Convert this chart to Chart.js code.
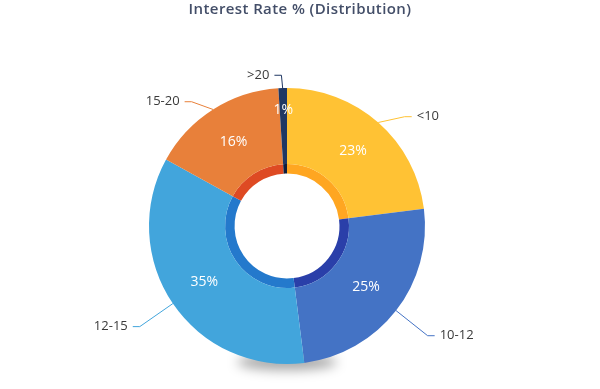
<!DOCTYPE html>
<html>
<head>
<meta charset="utf-8">
<script src="https://cdn.jsdelivr.net/npm/chart.js@4"></script>
<style>
    html, body { margin: 0; padding: 0; background: #fff; }
    #wrap { width: 600px; height: 389px; position: relative; }
</style>
</head>
<body>
<div id="wrap"><canvas id="rateChart"></canvas></div>
<script>
// Data
const categories = ['<10', '10-12', '12-15', '15-20', '>20'];
const shares = [23, 25, 35, 16, 1];
const outerColors = ['#FFC234', '#4473C5', '#42A5DC', '#E8803A', '#1F3763'];
const innerColors = ['#FFA621', '#2A3FA9', '#2479CC', '#DE4A23', '#0E1E3D'];
const chartTitle = 'Interest Rate % (Distribution)';
const FONT = '"Open Sans", sans-serif';

// Title drawn centred on the page (chart area itself is offset to the left)
const titlePlugin = {
    id: 'pageTitle',
    afterDraw(chart) {
        const ctx = chart.ctx;
        ctx.save();
        ctx.font = '600 15px ' + FONT;
        ctx.letterSpacing = '0.4px';
        ctx.fillStyle = '#434E68';
        ctx.textAlign = 'center';
        ctx.textBaseline = 'middle';
        ctx.fillText(chartTitle, chart.width / 2, 10);
        ctx.restore();
    }
};

// Soft shadow under the bottom of the ring
const shadowPlugin = {
    id: 'ringShadow',
    beforeDatasetsDraw(chart) {
        const arc = chart.getDatasetMeta(0).data[0];
        if (!arc) return;
        const ctx = chart.ctx;
        ctx.save();
        ctx.filter = 'blur(6px)';
        ctx.fillStyle = 'rgba(0, 0, 0, 0.35)';
        ctx.beginPath();
        ctx.ellipse(arc.x, arc.y + arc.outerRadius - 2, 50, 8, 0, 0, Math.PI * 2);
        ctx.fill();
        ctx.restore();
    }
};

// Percentages inside slices + outside labels with leader lines
const labelPlugin = {
    id: 'sliceLabels',
    afterDatasetsDraw(chart) {
        const ctx = chart.ctx;
        const meta = chart.getDatasetMeta(0);
        const total = shares.reduce((a, b) => a + b, 0);
        ctx.save();
        meta.data.forEach((arc, i) => {
            const mid = (arc.startAngle + arc.endAngle) / 2;
            const cos = Math.cos(mid), sin = Math.sin(mid);
            const cx = arc.x, cy = arc.y, R = arc.outerRadius;

            // percentage (thin slices pushed a bit outwards)
            const pr = shares[i] / total < 0.05 ? R - 22 : (arc.innerRadius + R) / 2;
            ctx.font = '14px ' + FONT;
            ctx.fillStyle = '#ffffff';
            ctx.textAlign = 'center';
            ctx.textBaseline = 'middle';
            ctx.fillText(Math.round(shares[i] / total * 100) + '%', cx + cos * pr, cy + sin * pr);

            // leader line
            const sx = cx + cos * R, sy = cy + sin * R;
            const bx = cx + cos * (R + 40);
            const by = cy + sin * (R + 13) + (sin > 0 ? 28 * sin : 6 * Math.abs(cos));
            const right = cos >= 0;
            const ex = bx + (right ? 7 : -7);
            ctx.strokeStyle = outerColors[i];
            ctx.lineWidth = 1;
            ctx.beginPath();
            ctx.moveTo(sx, sy);
            ctx.lineTo(bx, by);
            ctx.lineTo(ex, by);
            ctx.stroke();

            ctx.font = '13px ' + FONT;
            ctx.fillStyle = '#3a3a3a';
            ctx.textAlign = right ? 'left' : 'right';
            ctx.fillText(categories[i], ex + (right ? 5 : -5), by);
        });
        ctx.restore();
    }
};

document.addEventListener('DOMContentLoaded', () => {
    const ctx = document.getElementById('rateChart').getContext('2d');

    new Chart(ctx, {
        type: 'doughnut',
        data: {
            labels: categories,
            datasets: [{
                data: shares,
                backgroundColor: outerColors,
                borderWidth: 0,
                weight: 8
            }, {
                data: shares,
                backgroundColor: innerColors,
                borderWidth: 0,
                weight: 1
            }]
        },
        options: {
            responsive: true,
            maintainAspectRatio: false,
            animation: false,
            cutout: '38%',
            rotation: 0,
            layout: {
                padding: { top: 88, bottom: 25, left: 0, right: 26 }
            },
            plugins: {
                legend: { display: false },
                tooltip: { enabled: false },
                title: { display: false }
            }
        },
        plugins: [titlePlugin, shadowPlugin, labelPlugin]
    });
});
</script>
</body>
</html>
